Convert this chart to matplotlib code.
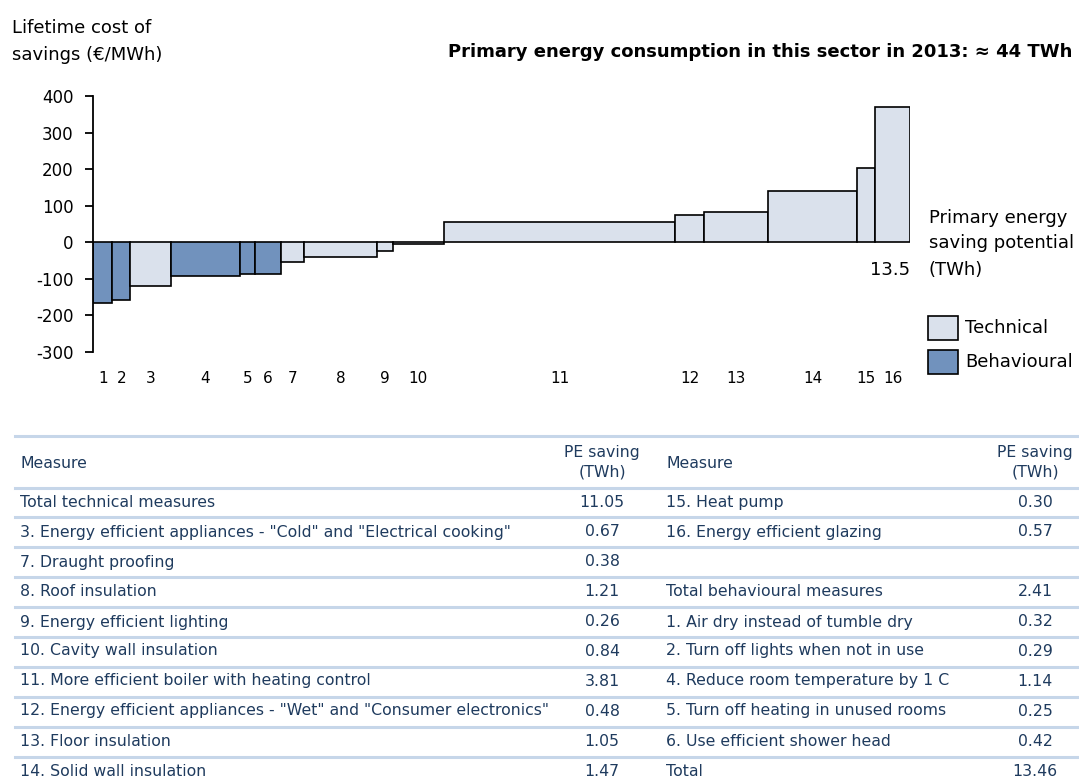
import matplotlib
matplotlib.use('Agg')
import matplotlib.pyplot as plt
from matplotlib.lines import Line2D
from matplotlib.patches import Rectangle
import matplotlib.transforms as mtransforms
import numpy as np

plt.rcParams['font.family'] = ['DejaVu Sans']

# ---- data ----
measure_ids = [1, 2, 3, 4, 5, 6, 7, 8, 9, 10, 11, 12, 13, 14, 15, 16]
savings_twh = [0.32, 0.29, 0.67, 1.14, 0.25, 0.42, 0.38, 1.21, 0.26, 0.84,
               3.81, 0.48, 1.05, 1.47, 0.30, 0.57]
cost_eur_mwh = [-165, -159, -119, -93, -86, -88, -55, -41, -25, -5,
                56, 75, 84, 141, 204, 369]
measure_type = ['B', 'B', 'T', 'B', 'B', 'B', 'T', 'T', 'T', 'T',
                'T', 'T', 'T', 'T', 'T', 'T']
y_ticks = [-300, -200, -100, 0, 100, 200, 300, 400]

left_measures = ["Total technical measures",
                 "3. Energy efficient appliances - \"Cold\" and \"Electrical cooking\"",
                 "7. Draught proofing",
                 "8. Roof insulation",
                 "9. Energy efficient lighting",
                 "10. Cavity wall insulation",
                 "11. More efficient boiler with heating control",
                 "12. Energy efficient appliances - \"Wet\" and \"Consumer electronics\"",
                 "13. Floor insulation",
                 "14. Solid wall insulation"]
left_values = ["11.05", "0.67", "0.38", "1.21", "0.26", "0.84", "3.81", "0.48", "1.05", "1.47"]
right_measures = ["15. Heat pump",
                  "16. Energy efficient glazing",
                  "",
                  "Total behavioural measures",
                  "1. Air dry instead of tumble dry",
                  "2. Turn off lights when not in use",
                  "4. Reduce room temperature by 1 C",
                  "5. Turn off heating in unused rooms",
                  "6. Use efficient shower head",
                  "Total"]
right_values = ["0.30", "0.57", "", "2.41", "0.32", "0.29", "1.14", "0.25", "0.42", "13.46"]

# ---- styles ----
TECH_C = '#dae1ec'
BEHAV_C = '#7192bd'
TXT_C = '#1f3b5e'
LINE_C = '#c6d6e9'

W, H = 1079, 778
fig = plt.figure(figsize=(W / 100, H / 100), dpi=100)

def fx(px):
    return px / W

def fy(py):
    return 1 - py / H

ax_left, ax_right, ax_top, ax_bot = 93, 910, 96, 352
ax = fig.add_axes([fx(ax_left), fy(ax_bot), fx(ax_right - ax_left), (ax_bot - ax_top) / H])

lefts = np.concatenate([[0], np.cumsum(savings_twh)[:-1]])
total = float(np.sum(savings_twh))
colors = [BEHAV_C if t == 'B' else TECH_C for t in measure_type]
ax.bar(lefts, cost_eur_mwh, width=savings_twh, align='edge', color=colors,
       edgecolor='black', linewidth=1.2)

ax.set_xlim(0, total)
ax.set_ylim(-300, 400)
ax.set_yticks(y_ticks)
ax.set_yticklabels([str(v) for v in y_ticks], fontsize=12)
ax.set_xticks([])
for s in ['top', 'right', 'bottom']:
    ax.spines[s].set_visible(False)
ax.spines['left'].set_linewidth(1.3)
ax.tick_params(axis='y', direction='out', length=6, width=1.3, pad=8)
ax.patch.set_alpha(0)

trans = mtransforms.blended_transform_factory(ax.transData, ax.transAxes)
for mid, l, w in zip(measure_ids, lefts, savings_twh):
    ax.text(l + w / 2, -0.105, str(mid), transform=trans, ha='center', va='center',
            fontsize=11, color='black')

ax.text(total, 0.32, f"{round(total, 1)}", transform=trans, ha='right', va='center',
        fontsize=13, color='black')

# header texts
fig.text(fx(12), fy(28), "Lifetime cost of", ha='left', va='center', fontsize=13)
fig.text(fx(12), fy(55), "savings (€/MWh)", ha='left', va='center', fontsize=13)
fig.text(fx(1072), fy(52), "Primary energy consumption in this sector in 2013: \u2248 44 TWh",
         ha='right', va='center', fontsize=13, fontweight='bold')

fig.text(fx(929), fy(218), "Primary energy", ha='left', va='center', fontsize=13)
fig.text(fx(929), fy(243), "saving potential", ha='left', va='center', fontsize=13)
fig.text(fx(929), fy(270), "(TWh)", ha='left', va='center', fontsize=13)

# legend
for (py, col, lab) in [(328, TECH_C, "Technical"), (362, BEHAV_C, "Behavioural")]:
    fig.patches.append(Rectangle((fx(928), fy(py + 12)), fx(30), 24 / H,
                                 facecolor=col, edgecolor='black', linewidth=1.2,
                                 transform=fig.transFigure))
    fig.text(fx(965), fy(py), lab, ha='left', va='center', fontsize=13)

# ---- table ----
line_ys = [436, 488, 517, 547, 577, 607, 637, 667, 697, 727, 757]
for ly in line_ys:
    fig.add_artist(Line2D([fx(15), fx(1079)], [fy(ly), fy(ly)], color=LINE_C,
                          linewidth=2.2, transform=fig.transFigure))

fs = 11.3
fig.text(fx(20), fy(463), "Measure", ha='left', va='center', fontsize=fs, color=TXT_C)
fig.text(fx(602), fy(452), "PE saving", ha='center', va='center', fontsize=fs, color=TXT_C)
fig.text(fx(602), fy(472), "(TWh)", ha='center', va='center', fontsize=fs, color=TXT_C)
fig.text(fx(666), fy(463), "Measure", ha='left', va='center', fontsize=fs, color=TXT_C)
fig.text(fx(1035), fy(452), "PE saving", ha='center', va='center', fontsize=fs, color=TXT_C)
fig.text(fx(1035), fy(472), "(TWh)", ha='center', va='center', fontsize=fs, color=TXT_C)

row_ys = [502, 532, 562, 592, 622, 651, 681, 711, 741, 771]
for ry, m, v in zip(row_ys, left_measures, left_values):
    fig.text(fx(20), fy(ry), m, ha='left', va='center', fontsize=fs, color=TXT_C)
    fig.text(fx(602), fy(ry), v, ha='center', va='center', fontsize=fs, color=TXT_C)
for ry, m, v in zip(row_ys, right_measures, right_values):
    fig.text(fx(666), fy(ry), m, ha='left', va='center', fontsize=fs, color=TXT_C)
    fig.text(fx(1035), fy(ry), v, ha='center', va='center', fontsize=fs, color=TXT_C)

fig.savefig('out.png', dpi=100, facecolor='white')
